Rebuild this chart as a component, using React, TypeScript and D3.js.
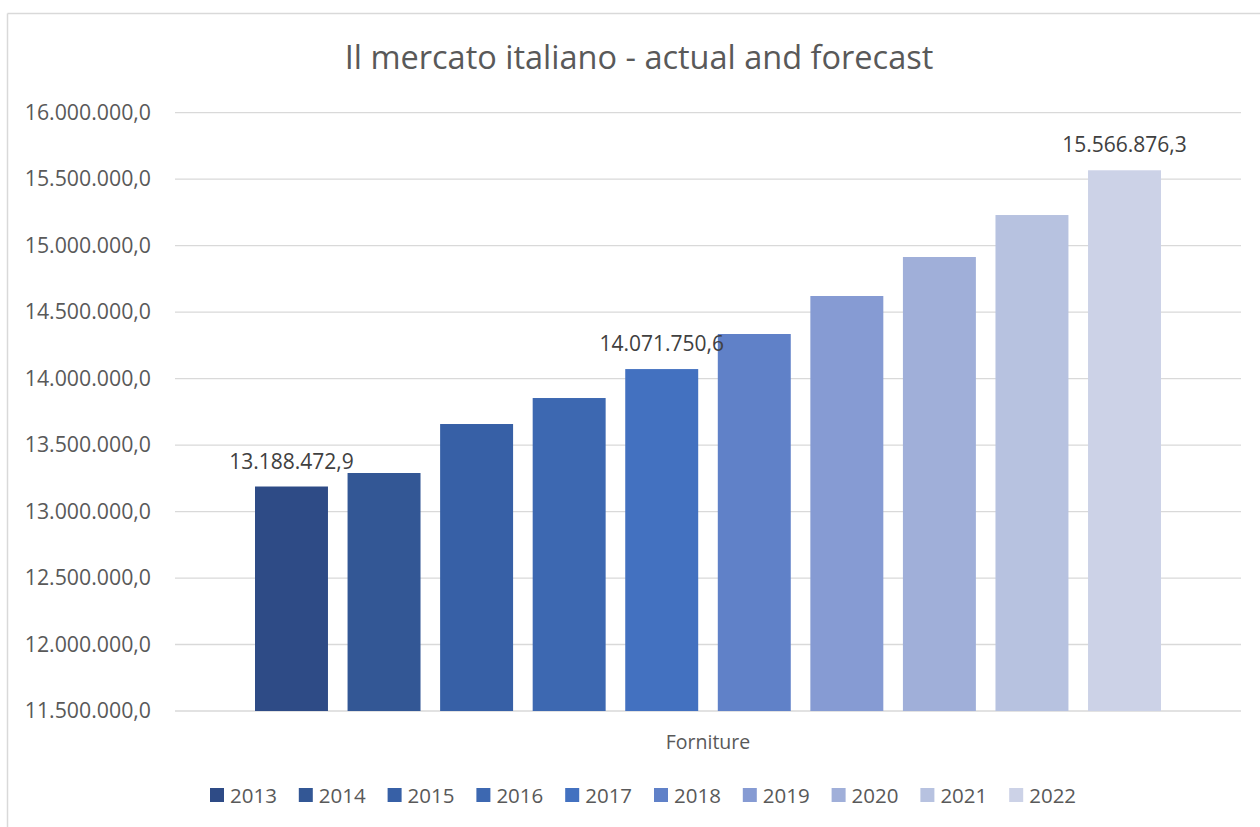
import React from "react";
import * as d3 from "d3";

const years = ["2013", "2014", "2015", "2016", "2017", "2018", "2019", "2020", "2021", "2022"];
const values = [13188472.9, 13290000, 13658500, 13854000, 14071750.6, 14335500, 14621300, 14914600, 15230400, 15566876.3];
const colors = ["#2e4b86", "#335795", "#3760a6", "#3d68b1", "#4371c0", "#6081c8", "#869bd3", "#a0afd9", "#b7c2e0", "#ccd2e7"];
const labelled = ["2013", "2017", "2022"];
const yTicks = [11500000, 12000000, 12500000, 13000000, 13500000, 14000000, 14500000, 15000000, 15500000, 16000000];
const title = "Il mercato italiano - actual and forecast";
const category = "Forniture";

const fmt = (v: number) => {
  const s = v.toFixed(1);
  const [intPart, dec] = s.split(".");
  return intPart.replace(/\B(?=(\d{3})+(?!\d))/g, ".") + "," + dec;
};

const FONT = "'Open Sans', 'Noto Sans', sans-serif";

export default function App() {
  const W = 1260, H = 827;
  const plotLeft = 175, plotRight = 1241;
  const y = d3.scaleLinear().domain([11500000, 16000000]).range([711, 112.7]);
  const x = d3.scaleBand<string>().domain(years).range([255, 1161]).paddingInner(0.2117).paddingOuter(0);
  const legendX = d3.scaleBand<string>().domain(years).range([210, 210 + 88.8 * years.length]);

  return (
    <svg width={W} height={H} style={{ position: "absolute", left: 0, top: 0, background: "#fff" }}>
      <rect x={0} y={0} width={W} height={H} fill="#fff" />
      <line x1={7.5} y1={13.5} x2={W} y2={13.5} stroke="#d9d9d9" strokeWidth={1.5} />
      <line x1={7.5} y1={13.5} x2={7.5} y2={H} stroke="#d9d9d9" strokeWidth={1.5} />
      <text x={639} y={69} textAnchor="middle" fontFamily={FONT} fontSize={32.5} fill="#595959">{title}</text>
      {yTicks.map((t) => (
        <g key={t}>
          <line x1={plotLeft} x2={plotRight} y1={y(t)} y2={y(t)} stroke="#d9d9d9" strokeWidth={1.3} />
          <text x={151} y={y(t) + 7} textAnchor="end" fontFamily={FONT} fontSize={21.3} fill="#595959">{fmt(t)}</text>
        </g>
      ))}
      {years.map((yr, i) => (
        <rect key={yr} x={x(yr)} y={y(values[i])} width={x.bandwidth()} height={y(11500000) - y(values[i])} fill={colors[i]} />
      ))}
      {years.map((yr, i) => labelled.includes(yr) ? (
        <text key={"l" + yr} x={(x(yr) as number) + x.bandwidth() / 2} y={y(values[i]) - 18} textAnchor="middle" fontFamily={FONT} fontSize={21} fill="#404040">{fmt(values[i])}</text>
      ) : null)}
      <text x={708} y={749} textAnchor="middle" fontFamily={FONT} fontSize={19.5} fill="#595959">{category}</text>
      {years.map((yr, i) => (
        <g key={"lg" + yr}>
          <rect x={legendX(yr)} y={788} width={14} height={14} fill={colors[i]} />
          <text x={(legendX(yr) as number) + 20} y={802.5} fontFamily={FONT} fontSize={20.5} fill="#595959">{yr}</text>
        </g>
      ))}
    </svg>
  );
}
